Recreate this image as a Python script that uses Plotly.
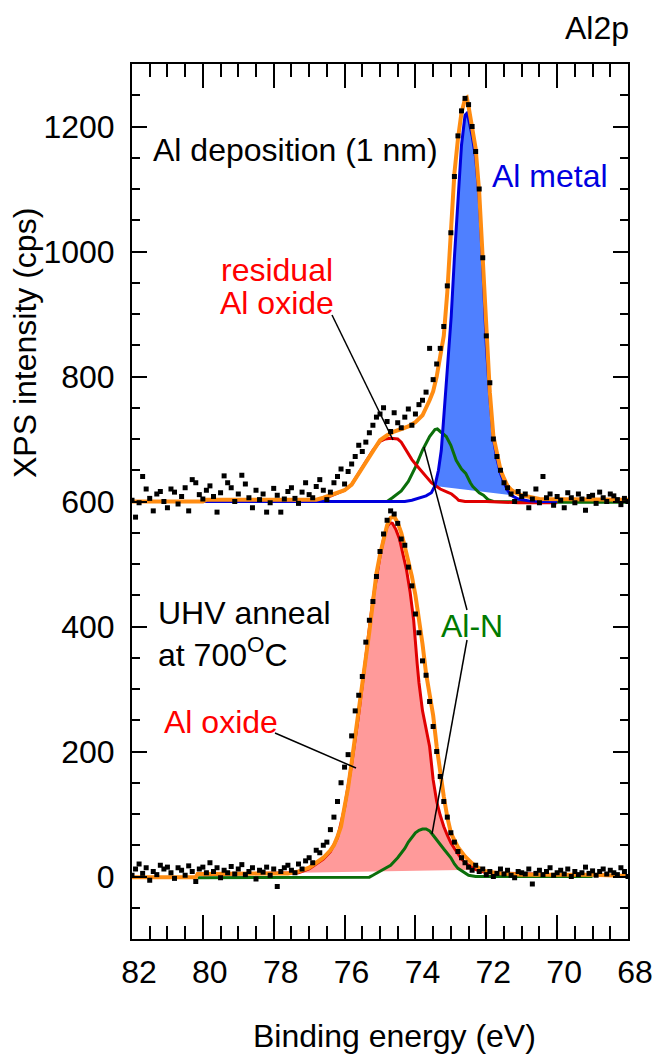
import plotly.graph_objects as go

# ---------------- data ----------------
ENERGY = [
    82.0, 81.9, 81.8, 81.7, 81.6, 81.5, 81.4, 81.3, 81.2, 81.1,
    81.0, 80.9, 80.8, 80.7, 80.6, 80.5, 80.4, 80.3, 80.2, 80.1,
    80.0, 79.9, 79.8, 79.7, 79.6, 79.5, 79.4, 79.3, 79.2, 79.1,
    79.0, 78.9, 78.8, 78.7, 78.6, 78.5, 78.4, 78.3, 78.2, 78.1,
    78.0, 77.9, 77.8, 77.7, 77.6, 77.5, 77.4, 77.3, 77.2, 77.1,
    77.0, 76.9, 76.8, 76.7, 76.6, 76.5, 76.4, 76.3, 76.2, 76.1,
    76.0, 75.9, 75.8, 75.7, 75.6, 75.5, 75.4, 75.3, 75.2, 75.1,
    75.0, 74.9, 74.8, 74.7, 74.6, 74.5, 74.4, 74.3, 74.2, 74.1,
    74.0, 73.9, 73.8, 73.7, 73.6, 73.5, 73.4, 73.3, 73.2, 73.1,
    73.0, 72.9, 72.8, 72.7, 72.6, 72.5, 72.4, 72.3, 72.2, 72.1,
    72.0, 71.9, 71.8, 71.7, 71.6, 71.5, 71.4, 71.3, 71.2, 71.1,
    71.0, 70.9, 70.8, 70.7, 70.6, 70.5, 70.4, 70.3, 70.2, 70.1,
    70.0, 69.9, 69.8, 69.7, 69.6, 69.5, 69.4, 69.3, 69.2, 69.1,
    69.0, 68.9, 68.8, 68.7, 68.6, 68.5, 68.4, 68.3, 68.2, 68.1,
    68.0,
]

# measured counts, Al deposition (1 nm), displayed with +600 offset
DEPO_COUNTS = [
    602, 575, 598, 640, 620, 605, 585, 612, 616, 600,
    590, 620, 615, 596, 608, 622, 585, 635, 630, 611,
    604, 618, 625, 608, 583, 614, 641, 630, 622, 600,
    612, 642, 628, 606, 590, 618, 603, 612, 583, 598,
    621, 610, 583, 604, 616, 622, 605, 597, 615, 630,
    611, 606, 624, 635, 618, 603, 615, 630, 640, 652,
    628, 648, 660, 672, 690, 680, 695, 710, 722, 735,
    740, 750, 728, 712, 742, 726, 718, 735, 748, 722,
    740, 755, 762, 775, 845, 795, 820, 845, 880, 945,
    1030, 1120, 1185, 1225, 1245, 1235, 1200, 1160, 1100, 990,
    865, 790, 700, 672, 650, 630, 622, 612, 600, 616,
    608, 612, 590, 604, 620, 598, 640, 606, 612, 594,
    608, 602, 590, 614, 606, 598, 612, 604, 586, 608,
    610, 597, 615, 606, 600, 612, 609, 603, 595, 605,
    600,
]

# measured counts, UHV anneal at 700 C
ANNEAL_COUNTS = [
    2, 12, 20, 5, 14, -6, 8, 3, 18, 12,
    15, 6, -3, 14, 10, 2, 17, 8, -8, 12,
    15, 6, 22, 8, 14, -2, 10, 6, 16, 4,
    12, 19, 3, 8, 14, -4, 10, 7, 15, 2,
    12, -16, 8, 14, 18, 10, 6, 20, 12, 25,
    30, 22, 42, 38, 50, 55, 75, 95, 120, 150,
    175, 195, 225, 265, 290, 320, 375, 410, 440, 480,
    520, 548, 570, 585, 580, 565, 540, 530, 495, 465,
    420, 390, 345, 322, 280, 240, 200, 160, 120, 95,
    70, 55, 40, 30, 22, 15, 10, 18, 8, 12,
    3, 8, 0, 5, 12, 4, 10, 2, -2, 8,
    6, 4, 12, -12, 5, 10, 3, 8, 14, 2,
    6, 10, 4, 12, 0, 8, 3, 6, 15, 5,
    9, 2, 8, 12, 4, 10, 6, 3, 14, 8,
    0,
]

# fitted envelope, Al deposition
DEPO_ENV_X = [82.0, 80.0, 79.9, 76.8, 76.6, 76.4, 76.2, 76.0, 75.8, 75.6,
              75.4, 75.2, 75.0, 74.8, 74.6, 74.4, 74.2, 74.0, 73.8, 73.6,
              73.5, 73.4, 73.3, 73.2, 73.1, 73.0, 72.9, 72.8, 72.7, 72.6,
              72.55, 72.5, 72.4, 72.3, 72.2, 72.1, 72.0, 71.9, 71.8, 71.7,
              71.6, 71.5, 71.4, 71.3, 71.2, 71.0, 70.8, 70.5, 68.0]
DEPO_ENV_Y = [600, 600, 603, 603, 606, 610, 614, 618, 627, 645,
              663, 682, 698, 706, 712, 716, 720, 727, 738, 762,
              776, 800, 835, 865, 935, 1035, 1125, 1180, 1222, 1244,
              1246, 1232, 1200, 1165, 1095, 985, 860, 775, 705, 675,
              651, 637, 625, 619, 615, 610, 607, 604, 603]

# Al metal component
METAL_X = [80.0, 74.3, 74.1, 73.9, 73.7, 73.55, 73.45, 73.35, 73.27, 73.2,
           73.13, 73.05, 72.99, 72.9, 72.8, 72.7, 72.6, 72.55, 72.5, 72.4,
           72.3, 72.2, 72.1, 72.0, 71.9, 71.8, 71.7, 71.6, 71.5, 71.4,
           71.3, 71.1, 70.8, 70.5, 70.0]
METAL_Y = [600, 600, 602, 605, 609, 614, 625, 650, 682, 735,
           789, 850, 896, 990, 1090, 1170, 1218, 1221, 1212, 1185,
           1150, 1085, 975, 850, 765, 700, 668, 645, 630, 618,
           610, 604, 601, 600, 600]

# residual Al oxide component
RESID_OX_X = [80.0, 77.0, 76.6, 76.4, 76.2, 76.0, 75.8, 75.6, 75.4, 75.2,
              75.0, 74.85, 74.7, 74.5, 74.4, 74.3, 74.2, 74.1, 74.0, 73.85,
              73.7, 73.55, 73.45, 73.3, 73.1, 72.98, 72.85, 72.78, 72.6, 72.0,
              71.1, 70.0]
RESID_OX_Y = [600, 600, 604, 609, 613, 618, 627, 645, 663, 682,
              696, 700, 701, 700, 695, 685, 676, 667, 660, 650,
              640, 630, 626, 620, 615, 612, 606, 602, 600, 600,
              598, 598]

# Al-N component, Al deposition
DEPO_ALN_X = [80.0, 74.8, 74.65, 74.4, 74.2, 74.0, 73.8, 73.6, 73.45, 73.38,
              73.3, 73.13, 73.0, 72.85, 72.7, 72.58, 72.45, 72.38, 72.2, 72.08,
              71.95, 71.8, 70.0, 68.0]
DEPO_ALN_Y = [600, 600, 606, 617, 632, 655, 682, 704, 715, 716,
              712, 704, 690, 666, 652, 645, 630, 624, 614, 610,
              603, 600, 599, 599]

# fitted envelope, UHV anneal
ANNEAL_ENV_X = [82.0, 80.2, 80.15, 77.6, 77.3, 77.0, 76.8, 76.6, 76.4, 76.3,
                76.2, 76.1, 76.0, 75.9, 75.8, 75.7, 75.6, 75.5, 75.4, 75.3,
                75.2, 75.1, 75.0, 74.9, 74.8, 74.7, 74.6, 74.5, 74.4, 74.3,
                74.2, 74.1, 74.0, 73.9, 73.8, 73.7, 73.6, 73.5, 73.4, 73.3,
                73.2, 73.1, 73.0, 72.9, 72.8, 72.6, 72.4, 72.2, 72.0, 71.6,
                71.0, 69.0, 68.0]
ANNEAL_ENV_Y = [-1, -1, 4, 5, 8, 14, 22, 30, 42, 50,
                64, 80, 112, 142, 183, 222, 262, 305, 350, 392,
                445, 485, 515, 542, 562, 574, 576, 566, 550, 528,
                505, 480, 450, 415, 372, 325, 290, 258, 208, 165,
                128, 95, 70, 58, 47, 32, 21, 13, 8, 5,
                3, 3, 1]

# Al oxide component, UHV anneal
OXIDE_X = [80.0, 77.3, 77.0, 76.8, 76.6, 76.4, 76.2, 76.0, 75.8, 75.6,
           75.4, 75.2, 75.0, 74.9, 74.8, 74.72, 74.65, 74.55, 74.45, 74.35,
           74.25, 74.15, 74.05, 73.95, 73.9, 73.8, 73.7, 73.6, 73.5, 73.4,
           73.3, 73.2, 73.1, 73.0, 72.9, 72.8, 72.7, 72.5, 72.3, 72.0,
           70.0]
OXIDE_Y = [3, 6, 12, 20, 28, 40, 62, 110, 180, 260,
           348, 443, 512, 540, 560, 566, 565, 555, 540, 515,
           490, 455, 410, 340, 310, 265, 237, 208, 155, 120,
           98, 80, 66, 54, 45, 36, 28, 18, 11, 6,
           3]

# Al-N component, UHV anneal
ANNEAL_ALN_X = [80.15, 75.3, 75.2, 75.0, 74.8, 74.7, 74.5, 74.3, 74.2, 74.1,
                74.0, 73.9, 73.8, 73.7, 73.6, 73.5, 73.4, 73.3, 73.2, 73.0,
                72.9, 72.8, 72.6, 72.5, 72.3, 69.0]
ANNEAL_ALN_Y = [-2, -1, 2, 8, 15, 18, 30, 45, 55, 62,
                70, 74, 76, 76, 73, 66, 58, 50, 44, 30,
                20, 13, 6, 2, 0, 0]

X_TICKS = [82, 80, 78, 76, 74, 72, 70, 68]
X_TICK_TEXT = ["82", "80", "78", "76", "74", "72", "70", "68"]
Y_TICKS = [0, 200, 400, 600, 800, 1000, 1200]
Y_TICK_TEXT = ["0", "200", "400", "600", "800", "1000", "1200"]

# ---------------- styling ----------------
FONT = "Liberation Sans, Arial, sans-serif"
FS = 32
ORANGE = "#FF8C12"
BLUE = "#0000DD"
BLUE_FILL = "#4F80FF"
RED = "#E00000"
PINK = "#FF9A9A"
GREEN = "#0B6E0B"

W, H = 654, 1056
L, R, T, B = 132, 628, 64, 939


def px(x, y):
    return (x - L) / (R - L), (B - y) / (B - T)


fig = go.Figure()

# filled components
mx = [x for x in METAL_X if 71.3 <= x <= 73.45]
my = [y for x, y in zip(METAL_X, METAL_Y) if 71.3 <= x <= 73.45]
fig.add_trace(go.Scatter(x=mx, y=my, mode="lines", fill="toself",
                         fillcolor=BLUE_FILL, line=dict(width=0), hoverinfo="skip"))
ox = [x for x in OXIDE_X if 72.3 <= x <= 77.3]
oy = [y for x, y in zip(OXIDE_X, OXIDE_Y) if 72.3 <= x <= 77.3]
fig.add_trace(go.Scatter(x=ox, y=oy, mode="lines", fill="toself",
                         fillcolor=PINK, line=dict(width=0), hoverinfo="skip"))

# component lines
for xs, ys, col in [
    (DEPO_ALN_X, DEPO_ALN_Y, GREEN),
    (ANNEAL_ALN_X, ANNEAL_ALN_Y, GREEN),
    (RESID_OX_X, RESID_OX_Y, RED),
    (OXIDE_X, OXIDE_Y, RED),
    (METAL_X, METAL_Y, BLUE),
]:
    fig.add_trace(go.Scatter(x=xs, y=ys, mode="lines",
                             line=dict(color=col, width=3)))

# envelopes
for xs, ys in [(DEPO_ENV_X, DEPO_ENV_Y), (ANNEAL_ENV_X, ANNEAL_ENV_Y)]:
    fig.add_trace(go.Scatter(x=xs, y=ys, mode="lines",
                             line=dict(color=ORANGE, width=4)))

# measured points
for ys in [DEPO_COUNTS, ANNEAL_COUNTS]:
    fig.add_trace(go.Scatter(x=ENERGY, y=ys, mode="markers",
                             marker=dict(symbol="square", size=5, color="black",
                                         line=dict(width=0))))

fig.update_xaxes(
    range=[82, 68], tickmode="array", tickvals=X_TICKS, ticktext=X_TICK_TEXT,
    ticks="inside", ticklen=24, tickwidth=1.5, tickcolor="black",
    showline=True, linewidth=2, linecolor="black", mirror="ticks",
    showgrid=False, zeroline=False,
    minor=dict(tickmode="linear", tick0=0, dtick=0.5, ticks="inside",
               ticklen=13, tickwidth=1.5, tickcolor="black", showgrid=False),
    tickfont=dict(size=FS, family=FONT, color="black"),
    ticklabelstandoff=4, ticklabelshift=-7,
)
fig.update_yaxes(
    range=[-100, 1300], tickmode="array", tickvals=Y_TICKS, ticktext=Y_TICK_TEXT,
    ticks="inside", ticklen=15, tickwidth=1.5, tickcolor="black",
    showline=True, linewidth=2, linecolor="black", mirror="ticks",
    showgrid=False, zeroline=False,
    minor=dict(tickmode="linear", tick0=0, dtick=50, ticks="inside",
               ticklen=8, tickwidth=1.5, tickcolor="black", showgrid=False),
    tickfont=dict(size=FS, family=FONT, color="black"),
    ticklabelstandoff=9,
)


def label(text, x, y, color="black", xanchor="center", angle=0, align="center"):
    xp, yp = px(x, y)
    return dict(text=text, x=xp, y=yp, xref="paper", yref="paper", showarrow=False,
                font=dict(size=FS, color=color, family=FONT), align=align,
                xanchor=xanchor, yanchor="middle", textangle=angle)


annotations = [
    label("Al2p", 597, 28),
    label("Al deposition (1 nm)", 295, 150),
    label("Al metal", 550, 176, "#0000E0"),
    label("residual", 277, 270, "#FF0000"),
    label("Al oxide", 277, 303, "#FF0000"),
    label("UHV anneal<br>at 700<sup>O</sup>C", 156, 634, xanchor="left", align="left"),
    label("Al-N", 472, 626, "#007A00"),
    label("Al oxide", 221, 722, "#FF0000"),
    label("Binding energy (eV)", 394, 1036),
    label("XPS intensity (cps)", 25, 343, angle=-90),
]

shapes = []
for (x0, y0, x1, y1) in [(332, 315, 393, 440), (424, 447, 467, 610),
                         (467, 640, 432, 834), (275, 733, 356, 768)]:
    a = px(x0, y0)
    b = px(x1, y1)
    shapes.append(dict(type="line", xref="paper", yref="paper",
                       x0=a[0], y0=a[1], x1=b[0], y1=b[1],
                       line=dict(color="black", width=1.5)))

fig.update_layout(
    width=W, height=H,
    margin=dict(l=L, r=W - R, t=T, b=H - B, autoexpand=False),
    paper_bgcolor="white", plot_bgcolor="white",
    showlegend=False,
    annotations=annotations, shapes=shapes,
    font=dict(family=FONT, color="black"),
)

fig.write_html("out.html", config={"displayModeBar": False})
